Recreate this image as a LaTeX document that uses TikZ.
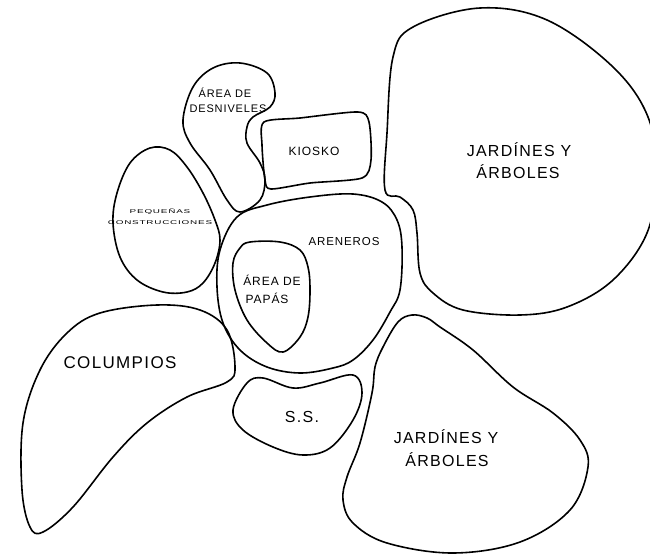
\documentclass[tikz,border=0pt]{standalone}
\usepackage{fontspec}
\setmainfont{Liberation Sans}
\newfontfamily\labfont[LetterSpace=8]{Liberation Sans}
\begin{document}
\begin{tikzpicture}[x=1pt,y=-1pt,
  region/.style={draw=black, line width=1.6pt, line join=round},
  lbl/.style={inner sep=0pt, text height=0.716em, text depth=0pt, font=\labfont}]
\useasboundingbox (0,0) rectangle (650,554);
% top-right garden
\draw[region] plot[smooth cycle, tension=0.6] coordinates {(393,57) (413,27) (480,8) (547,20) (613,67) (648,117) (656,175) (647,233) (613,280) (567,307) (520,315) (463,310) (433,293) (420,273) (417,233) (413,210) (400,197) (385,190) (387,133)};
% bottom-right garden
\draw[region] plot[smooth cycle, tension=0.6] coordinates {(375,367) (383,347) (398,322) (412,315) (427,318) (440,327) (473,350) (513,387) (553,413) (580,440) (588,467) (570,510) (520,542) (453,553) (387,543) (353,523) (343,500) (347,477) (360,443) (372,393)};
% areneros
\draw[region] plot[smooth cycle, tension=0.6] coordinates {(237,217) (267,205) (310,197) (353,194) (382,202) (397,220) (402,247) (400,290) (390,312) (373,340) (353,360) (333,368) (300,373) (267,367) (240,350) (223,323) (217,287) (220,250)};
% area de papas
\draw[region] plot[smooth cycle, tension=0.6] coordinates {(250,242) (280,242) (300,250) (308,267) (310,290) (308,317) (300,337) (283,352) (267,343) (247,320) (235,290) (233,263) (240,248)};
% kiosko
\draw[region] plot[smooth cycle, tension=0.45] coordinates {(264,122) (300,118) (358,112) (369,122) (371,160) (362,178) (310,183) (271,189) (265,180) (262,145)};
% area de desniveles
\draw[region] plot[smooth cycle, tension=0.6] coordinates {(183,120) (193,87) (213,68) (240,63) (267,73) (275,93) (270,107) (253,117) (247,127) (247,143) (260,163) (265,180) (260,200) (240,212) (227,200) (210,170) (190,143)};
% pequenas construcciones
\draw[region] plot[smooth cycle, tension=0.6] coordinates {(150,148) (170,150) (187,167) (203,193) (215,220) (220,240) (215,263) (203,283) (187,292) (163,292) (137,280) (120,257) (113,223) (117,193) (130,163)};
% columpios
\draw[region] plot[smooth cycle, tension=0.6] coordinates {(157,305) (200,310) (227,330) (235,367) (227,382) (187,397) (147,423) (113,457) (73,507) (43,532) (30,527) (22,490) (23,423) (40,370) (67,333) (100,313)};
% s.s.
\draw[region] plot[smooth cycle, tension=0.6] coordinates {(233,410) (247,383) (263,378) (293,388) (320,383) (353,375) (362,393) (353,420) (330,448) (303,455) (273,447) (243,430)};

% labels
\node[lbl, font=\labfont\fontsize{16}{19}\selectfont] (j1a) at (519,153) {JARDÍNES Y};
\node[lbl, font=\labfont\fontsize{16}{19}\selectfont] (j1b) at (518,175) {ÁRBOLES};
\node[lbl, font=\labfont\fontsize{16}{19}\selectfont] (j2a) at (446,440) {JARDÍNES Y};
\node[lbl, font=\labfont\fontsize{16}{19}\selectfont] (j2b) at (447,463) {ÁRBOLES};
\node[lbl, font=\labfont\fontsize{17}{20}\selectfont] (col) at (120,365) {COLUMPIOS};
\node[lbl, font=\labfont\fontsize{16}{19}\selectfont] (ss) at (302,419) {S.S.};
\node[lbl, font=\labfont\fontsize{12}{14}\selectfont] (kio) at (314,152) {KIOSKO};
\node[lbl, font=\labfont\fontsize{11.5}{14}\selectfont] (are) at (344,242) {ARENEROS};
\node[lbl, font=\labfont\fontsize{12}{14}\selectfont] (pa1) at (272,282) {ÁREA DE};
\node[lbl, font=\labfont\fontsize{12}{14}\selectfont] (pa2) at (267,300) {PAPÁS};
\node[lbl, font=\labfont\fontsize{11}{13}\selectfont] (de1) at (225,94) {ÁREA DE};
\node[lbl, font=\labfont\fontsize{11}{13}\selectfont] (de2) at (228,109) {DESNIVELES};
\node[lbl, font=\labfont\fontsize{5.5}{7}\selectfont] (pe1) at (160,210) {\scalebox{1.8}[1]{PEQUEÑAS}};
\node[lbl, font=\labfont\fontsize{5.5}{7}\selectfont] (pe2) at (160,221) {\scalebox{1.8}[1]{CONSTRUCCIONES}};
\end{tikzpicture}
\end{document}
